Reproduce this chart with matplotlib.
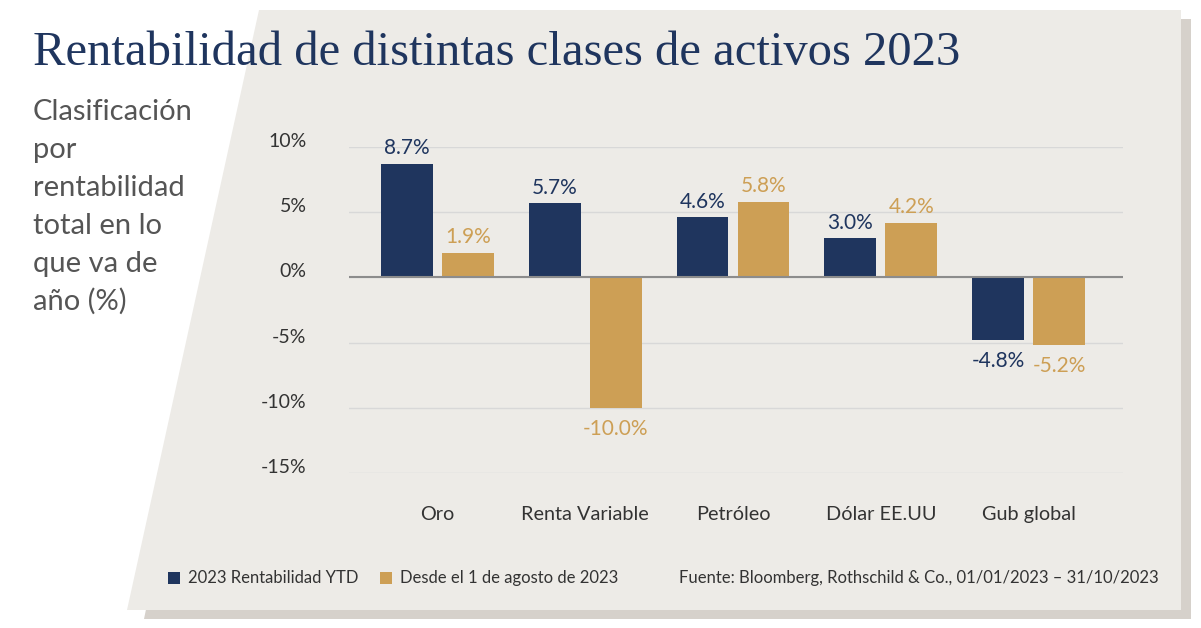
import matplotlib.pyplot as plt
from matplotlib.patches import Polygon, Rectangle
import numpy as np

# datos
categorias = ['Oro', 'Renta Variable', 'Petróleo', 'Dólar EE.UU', 'Gub global']
ytd_2023 = [8.7, 5.7, 4.6, 3.0, -4.8]
desde_agosto = [1.9, -10.0, 5.8, 4.2, -5.2]
yticks = [10, 5, 0, -5, -10, -15]
serie_nombres = ['2023 Rentabilidad YTD', 'Desde el 1 de agosto de 2023']

NAVY = '#1f355e'
GOLD = '#cd9f55'
PANEL = '#edebe7'
SHADOW = '#d6d1cb'
TXT = '#333333'

W, H = 1201, 628
fig = plt.figure(figsize=(W / 100, H / 100), dpi=100)
fig.patch.set_facecolor('white')


def px(x, y):
    return (x / W, 1 - y / H)


# fondo: sombra y panel inclinado
sombra = Polygon([px(269, 19), px(1191, 19), px(1191, 619), px(144, 619)],
                 closed=True, transform=fig.transFigure, facecolor=SHADOW,
                 edgecolor='none', zorder=0)
panel = Polygon([px(259, 10), px(1181, 10), px(1181, 610), px(127, 610)],
                closed=True, transform=fig.transFigure, facecolor=PANEL,
                edgecolor='none', zorder=1)
fig.patches.extend([sombra, panel])

# titulo y subtitulo
fig.text(*px(33, 65), 'Rentabilidad de distintas clases de activos 2023',
         family='Liberation Serif', fontsize=35, color=NAVY, va='baseline')
sub = ['Clasificación', 'por', 'rentabilidad', 'total en lo', 'que va de', 'año (%)']
for i, linea in enumerate(sub):
    fig.text(*px(33, 120 + i * 38), linea, family='Lato',
             fontsize=21, color='#555555', va='baseline')

# ejes
ax = fig.add_axes([349 / W, 1 - 473 / H, (1123 - 349) / W, (473 - 147) / H])
ax.set_facecolor('none')
ax.set_zorder(2)
x = np.arange(len(categorias))
w = 0.35
off = 0.207
b1 = ax.bar(x - off, ytd_2023, w, color=NAVY, zorder=3)
b2 = ax.bar(x + off, desde_agosto, w, color=GOLD, zorder=3)

ax.set_xlim(-0.6, len(categorias) - 1 + 0.64)
ax.set_ylim(-15, 10)
for s in ax.spines.values():
    s.set_visible(False)
ax.set_yticks([])
for v in yticks:
    ax.axhline(v, color='#d8d8d8', lw=1, zorder=1)
    ax.text(-0.055, v, f'{v}%', transform=ax.get_yaxis_transform(),
            ha='right', va='baseline', fontsize=14, color=TXT, family='Lato')
ax.axhline(0, color='#8c8c8c', lw=1.5, zorder=4)

ax.set_xticks(x)
ax.set_xticklabels(categorias, fontsize=14.3, color=TXT, family='Lato')
ax.tick_params(axis='x', length=0, pad=24)

# etiquetas de valores
for bars, vals, col in [(b1, ytd_2023, NAVY), (b2, desde_agosto, GOLD)]:
    for rect, v in zip(bars, vals):
        cx = rect.get_x() + rect.get_width() / 2
        if v >= 0:
            ax.annotate(f'{v:.1f}%', (cx, v), xytext=(0, 4), textcoords='offset points',
                        ha='center', va='bottom', fontsize=15, color=col, family='Lato')
        else:
            ax.annotate(f'{v:.1f}%', (cx, v), xytext=(0, -8), textcoords='offset points',
                        ha='center', va='top', fontsize=15, color=col, family='Lato')

# leyenda y fuente
for (lx, nombre, col) in [(168, serie_nombres[0], NAVY), (380, serie_nombres[1], GOLD)]:
    fig.patches.append(Rectangle(px(lx, 584), 12 / W, 12 / H, transform=fig.transFigure,
                                 facecolor=col, edgecolor='none', zorder=3))
    fig.text(*px(lx + 20, 578), nombre, fontsize=12, color=TXT, family='Lato', va='center')
fig.text(*px(1159, 578), 'Fuente: Bloomberg, Rothschild & Co., 01/01/2023 – 31/10/2023',
         fontsize=12, color=TXT, family='Lato', va='center', ha='right')

fig.savefig('out.png', dpi=100)
